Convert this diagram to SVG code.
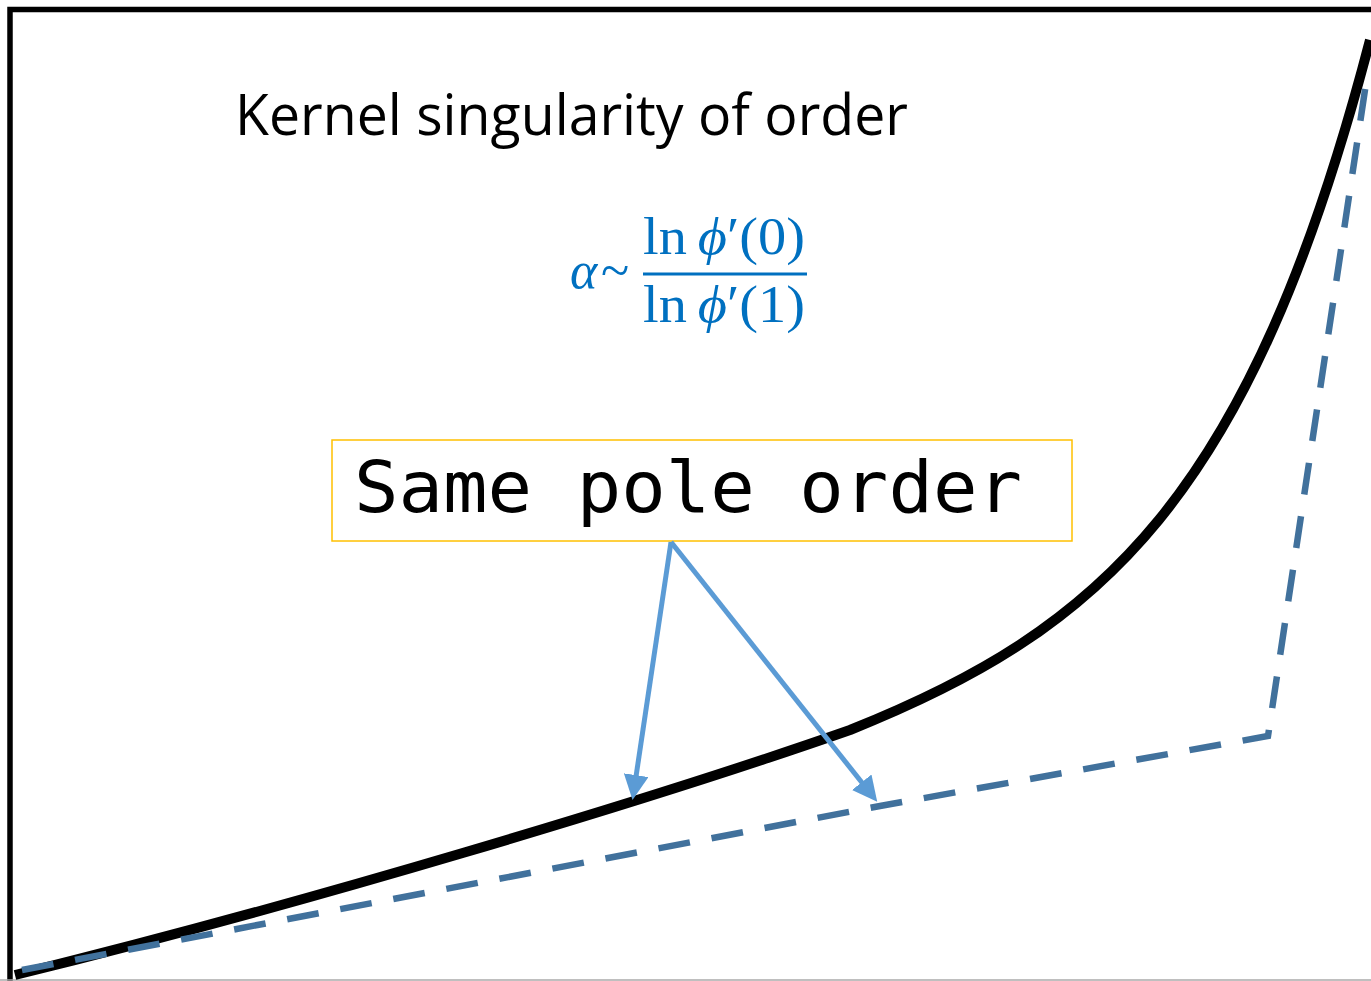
<svg xmlns="http://www.w3.org/2000/svg" width="1371" height="981" viewBox="0 0 1371 981">
<style>
.title{font-family:"Open Sans","Liberation Sans",sans-serif;font-size:56px;fill:#000}
.math{font-family:"Liberation Serif","DejaVu Serif",serif;font-size:52px;fill:#0070C0}
.it{font-style:italic}
.mono{font-family:"DejaVu Sans Mono","Liberation Mono",monospace;font-size:72px;fill:#000}
.arrow{stroke:#5B9BD5;stroke-width:5;fill:none}
</style>
<defs>
<marker id="ah" markerWidth="5" markerHeight="5" refX="3" refY="2.5" orient="auto" markerUnits="strokeWidth">
<path d="M0,0 L5,2.5 L0,5 z" fill="#5B9BD5"/>
</marker>
</defs>
<rect width="1371" height="981" fill="#fff"/>
<g id="frame">
<path d="M10,981 V9.5 H1371" fill="none" stroke="#000" stroke-width="5.5"/>
<line x1="0" y1="980" x2="1371" y2="980" stroke="#aaa" stroke-width="1.5"/>
</g>
<g id="curve">
<path d="M15,975 C300,905 650,800 850,730 C1100,630 1250,500 1370,40" fill="none" stroke="#000" stroke-width="10"/>
</g>
<g id="dashed">
<path d="M22,970 L880,806 L1268,736 L1368,70" fill="none" stroke="#41719C" stroke-width="6.5" stroke-dasharray="32,22"/>
</g>
<g id="title">
<text class="title" x="235" y="135" textLength="673" lengthAdjust="spacingAndGlyphs">Kernel singularity of order</text>
</g>
<g id="formula">
<text class="math it" x="570" y="288">α</text>
<text class="math" x="601" y="288">~</text>
<text class="math" x="643" y="254" textLength="162" lengthAdjust="spacingAndGlyphs"><tspan>ln</tspan><tspan class="it" dx="10">ϕ</tspan><tspan>′(0)</tspan></text>
<line x1="643" y1="274" x2="807" y2="274" stroke="#0070C0" stroke-width="3"/>
<text class="math" x="643" y="322" textLength="162" lengthAdjust="spacingAndGlyphs"><tspan>ln</tspan><tspan class="it" dx="10">ϕ</tspan><tspan>′(1)</tspan></text>
</g>
<g id="label">
<rect x="332" y="440" width="740" height="101" fill="none" stroke="#FFC000" stroke-width="1.5"/>
<text class="mono" x="354" y="512" textLength="668" lengthAdjust="spacingAndGlyphs">Same pole order</text>
</g>
<g id="connectors">
<line class="arrow" x1="671" y1="542" x2="634" y2="790" marker-end="url(#ah)"/>
<line class="arrow" x1="671" y1="542" x2="871" y2="794" marker-end="url(#ah)"/>
</g>
</svg>
